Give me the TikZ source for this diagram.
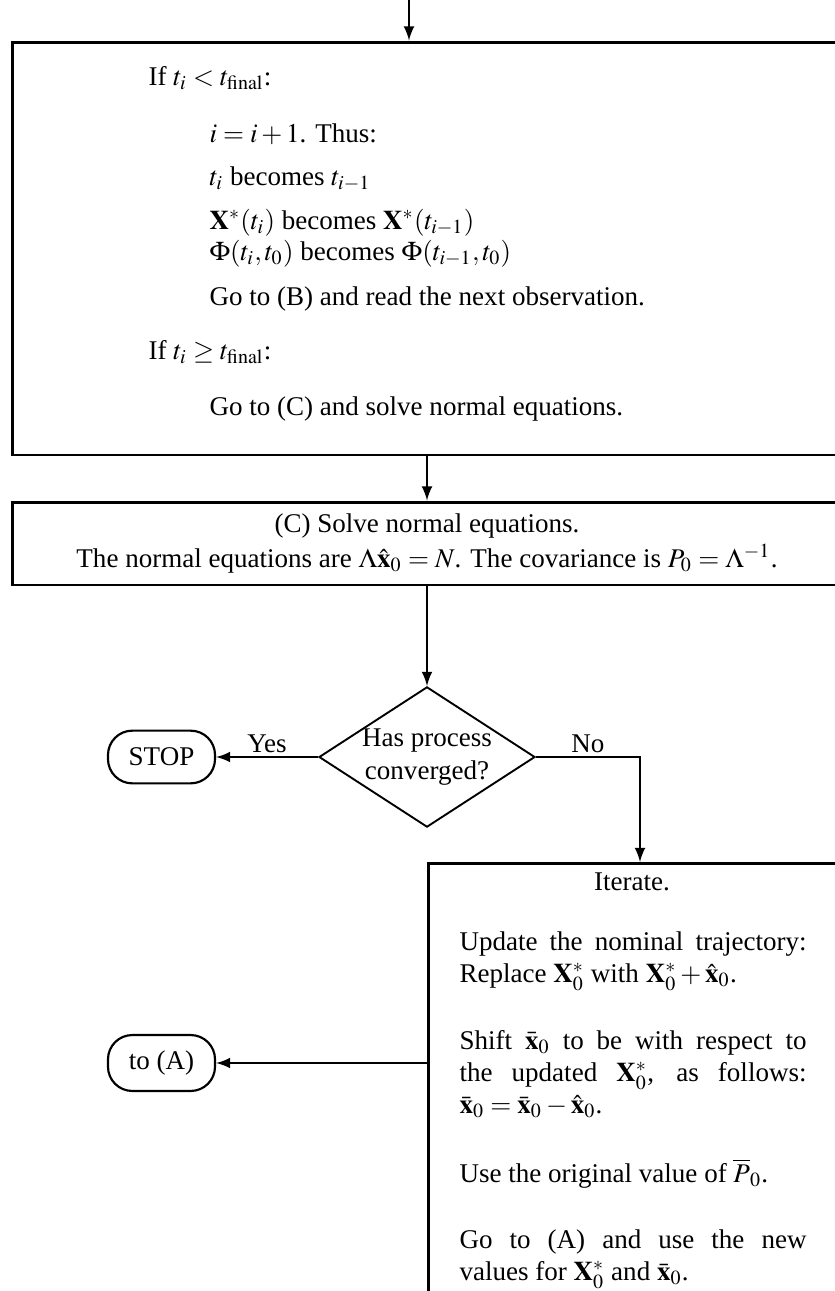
\documentclass[tikz,border=0pt]{standalone}
\usepackage{mathptmx}
\usepackage{fontspec}
\setmainfont{Liberation Serif}
\usetikzlibrary{shapes,arrows,positioning,calc}

\begin{document}
\begin{tikzpicture}[
    x=0.37pt, y=-0.37pt,
    box/.style={rectangle, draw, line width=1.1pt, inner sep=0pt},
    endbox/.style={rectangle, rounded corners=9pt, draw, line width=0.8pt, minimum width=39.6pt, minimum height=19.5pt, inner sep=0pt},
    decision/.style={diamond, draw, line width=0.7pt, aspect=1.54, inner sep=0pt, align=center},
    txt/.style={anchor=base west, inner sep=0pt},
    para/.style={anchor=base west, inner sep=0pt, text width=128.4pt, align=justify},
    answer/.style={above, inner sep=1pt},
    arrow/.style={->, >=latex, line width=0.8pt}
]
    \clip (0,0) rectangle (835,1291);

    % Bloc (B) - test sur le temps
    \coordinate (in) at (409,0);
    \node[box, minimum width=306.4pt, minimum height=152.8pt] (check) at (427,248.5) {};
    \node[txt] (if1) at (148,85) {If $t_i < t_{\mathrm{final}}$:};
    \node[txt] (inc) at (209,142) {$i = i + 1$. Thus:};
    \node[txt] (tnext) at (209,185) {$t_i$ becomes $t_{i-1}$};
    \node[txt] (xnext) at (209,229) {$\mathbf{X}^*(t_i)$ becomes $\mathbf{X}^*(t_{i-1})$};
    \node[txt] (phinext) at (209,260) {$\Phi(t_i, t_0)$ becomes $\Phi(t_{i-1}, t_0)$};
    \node[txt] (gob) at (209,305) {Go to (B) and read the next observation.};
    \node[txt] (if2) at (148,359) {If $t_i \ge t_{\mathrm{final}}$:};
    \node[txt] (goc) at (209,415) {Go to (C) and solve normal equations.};

    % Bloc (C) - equations normales
    \node[box, minimum width=306.4pt, minimum height=30.7pt, align=center] (solve) at (427,543.5)
        {(C) Solve normal equations.\\[1pt]
         The normal equations are $\Lambda\hat{\mathbf{x}}_0 = N$. The covariance is $P_0 = \Lambda^{-1}$.};

    % Test de convergence
    \node[decision] (conv) at (427,757) {Has process\\converged?};
    \node[endbox] (stop) at (161.5,757) {STOP};

    % Iteration
    \node[box, anchor=north west, minimum width=152pt, minimum height=185pt] (iter) at (427,862) {};
    \coordinate (noin) at (640,862);
    \node[anchor=base, inner sep=0pt] (ittitle) at (632,890) {Iterate.};
    \node[para] (upd) at (459,950) {Update the nominal trajectory:\linebreak
        Replace $\mathbf{X}^*_0$ with $\mathbf{X}^*_0 + \hat{\mathbf{x}}_0$.};
    \node[para] (shift) at (459,1049) {Shift $\bar{\mathbf{x}}_0$ to be with respect to\linebreak
        the updated $\mathbf{X}^*_0$, as follows:\linebreak
        $\bar{\mathbf{x}}_0 = \bar{\mathbf{x}}_0 - \hat{\mathbf{x}}_0$.};
    \node[para] (usep) at (459,1182) {Use the original value of $\overline{P}_0$.};
    \node[para] (goa) at (459,1248) {Go to (A) and use the new\linebreak
        values for $\mathbf{X}^*_0$ and $\bar{\mathbf{x}}_0$.};
    \node[endbox, minimum height=20.7pt] (toA) at (161.5,1063) {to (A)};

    % Fleches
    \draw[arrow] (in) -- (in |- check.north);
    \draw[arrow] (check.south) -- (solve.north);
    \draw[arrow] (solve.south) -- (conv.north);
    \draw[arrow] (conv.west) -- node[answer] {Yes} (stop.east);
    \draw[arrow] (conv.east) -| node[answer, pos=0.25] {No} (noin);
    \draw[arrow] (iter.west |- toA) -- (toA.east);
\end{tikzpicture}
\end{document}
